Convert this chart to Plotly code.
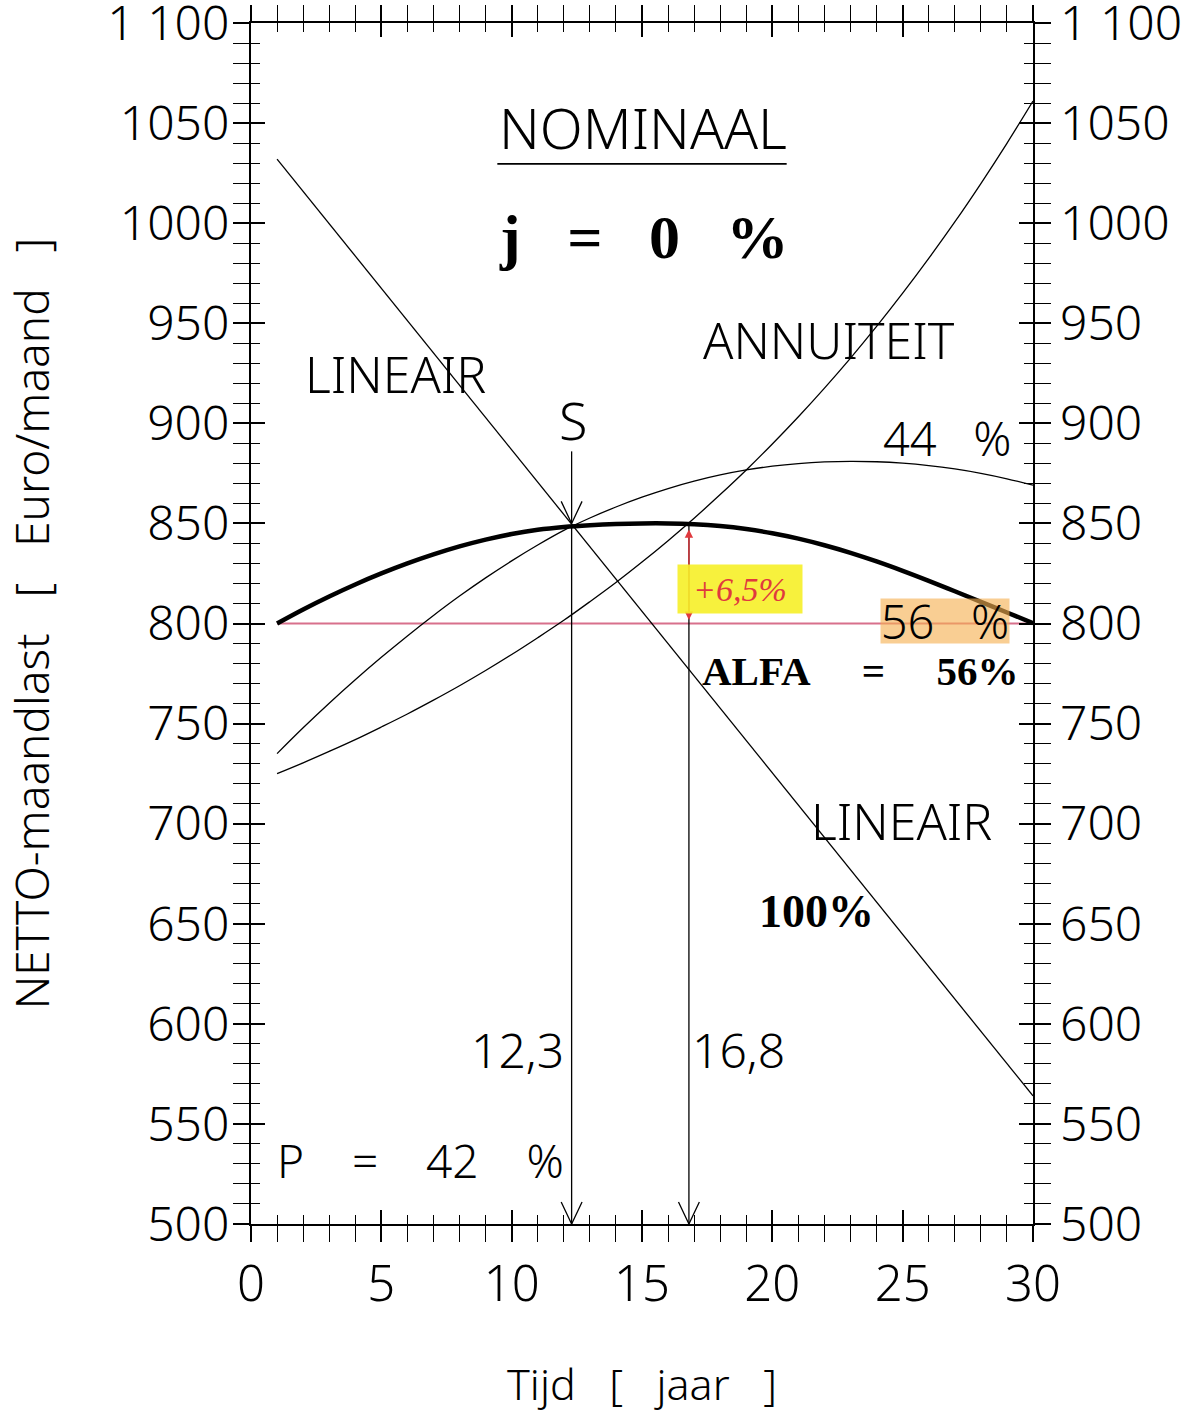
import plotly.graph_objects as go

# ---------------- data ----------------
years = list(range(1, 31))
annuiteit = [725.0, 730.4, 736.1, 742.0, 748.3, 754.8, 761.7, 768.9, 776.5, 784.5,
             792.9, 801.6, 810.9, 820.5, 830.7, 841.4, 852.6, 864.4, 876.7, 889.7,
             903.3, 917.6, 932.6, 948.4, 965.0, 982.4, 1000.6, 1019.8, 1039.9, 1061.0]
alfa44 = [735.0, 747.9, 760.2, 771.9, 783.1, 793.8, 804.0, 813.7, 822.8, 831.3,
          839.2, 846.5, 852.7, 858.2, 863.1, 867.4, 871.1, 874.2, 876.7, 878.6,
          879.9, 880.7, 881.0, 880.8, 880.1, 878.9, 877.2, 875.0, 872.3, 869.1]
alfa56 = [800.0, 807.0, 813.5, 819.5, 825.0, 830.0, 834.5, 838.5, 841.9, 844.7,
          846.8, 848.2, 849.1, 849.7, 850.0, 850.0, 849.6, 848.7, 847.2, 845.1,
          842.4, 839.1, 835.3, 831.0, 826.3, 821.3, 816.1, 810.8, 805.5, 800.2]
lineair_x = [1, 30]
lineair_y = [1032, 564]
ref_x = [1, 30]
ref_y = [800, 800]

arrow_x = [12.3, 16.8]          # vertical arrows down to the time axis
arrow_top = [849, 850]
arrow_bottom = [500, 500]
s_arrow_x = 12.3                # short arrow marking point S
s_arrow_top = 886
s_arrow_bottom = 850
delta_x = 16.8                  # red +6,5% arrow
delta_low, delta_high = 800, 850

x_ticks = [0, 5, 10, 15, 20, 25, 30]
x_tick_text = ["0", "5", "10", "15", "20", "25", "30"]
y_ticks = [500, 550, 600, 650, 700, 750, 800, 850, 900, 950, 1000, 1050, 1100]
y_tick_text = ["500", "550", "600", "650", "700", "750", "800", "850", "900", "950",
               "1000", "1050", "1 100"]

# ---------------- style ----------------
SANS = "Noto Sans"
SERIF = "Liberation Serif"
THIN = 300
NB = "\u00a0"

fig = go.Figure()

def line(x, y, width=1.3, color="black", shape="linear"):
    fig.add_trace(go.Scatter(x=x, y=y, mode="lines",
                             line=dict(color=color, width=width, shape=shape),
                             showlegend=False, hoverinfo="skip"))

def vhead(x, y, direction=-1, dx=0.4, dy=11):
    # open V arrowhead, tip at (x, y); direction -1 = pointing down
    line([x - dx, x, x + dx], [y - direction * dy, y, y - direction * dy])

# reference line at 800
line(ref_x, ref_y, width=2, color="#d8708c")
# curves
line(lineair_x, lineair_y)
line(years, annuiteit, shape="spline")
line(years, alfa44, shape="spline")
line(years, alfa56, width=4.5, shape="spline")

# vertical arrows
for xv, yt, yb in zip(arrow_x, arrow_top, arrow_bottom):
    line([xv, xv], [yt, yb])
    vhead(xv, yb)
line([s_arrow_x, s_arrow_x], [s_arrow_top, s_arrow_bottom])
vhead(s_arrow_x, s_arrow_bottom)

# dummy traces to activate the overlay axes
fig.add_trace(go.Scatter(x=[None], y=[None], xaxis="x2", yaxis="y", showlegend=False, hoverinfo="skip"))
fig.add_trace(go.Scatter(x=[None], y=[None], xaxis="x", yaxis="y2", showlegend=False, hoverinfo="skip"))
fig.add_trace(go.Scatter(x=[None], y=[None], xaxis="x", yaxis="y3", showlegend=False, hoverinfo="skip"))

# red double-headed arrow (+6,5%)
fig.add_annotation(x=delta_x, y=delta_high, ax=delta_x, ay=delta_low, xref="x", yref="y",
                   axref="x", ayref="y", showarrow=True, arrowhead=2, startarrowhead=2,
                   arrowside="end+start", arrowsize=1.2, arrowwidth=1.4, arrowcolor="#e0393e",
                   text="", standoff=6, startstandoff=2)

def txt(text, x, y, size, family=SANS, weight=THIN, color="black", **kw):
    fig.add_annotation(x=x, y=y, xref="x", yref="y", text=text, showarrow=False,
                       font=dict(family=family, size=size, color=color, weight=weight), **kw)

txt("NOMINAAL", 15.05, 1048, 56)
txt("<b>j" + NB * 3 + "=" + NB * 3 + "0" + NB * 3 + "%</b>", 15.05, 993, 62, family=SERIF, weight="bold")
txt("ANNUITEIT", 22.17, 941.5, 50)
txt("LINEAIR", 5.56, 924.7, 50)
txt("S", 12.35, 902, 52)
txt("44" + NB * 3 + "%", 26.72, 892.5, 47)
txt("56" + NB * 3 + "%", 26.62, 801.5, 47, bgcolor="rgba(246,176,80,0.62)", borderpad=0,
    height=44, width=128)
txt("<b>ALFA" + NB * 5 + "=" + NB * 5 + "56%</b>", 23.36, 776.5, 41, family=SERIF, weight="bold")
txt("LINEAIR", 24.96, 701.3, 50)
txt("<b>100%</b>", 21.7, 656, 46, family=SERIF, weight="bold")
txt("12,3", 12.1, 587, 48, xanchor="right")
txt("16,8", 16.85, 587, 48, xanchor="left")
txt("P" + NB * 4 + "=" + NB * 4 + "42" + NB * 4 + "%", 0.92, 532, 46, xanchor="left")
txt("<i>+6,5%</i>", 18.75, 817, 34, family=SERIF, weight="normal", color="#e0393e",
    bgcolor="rgba(246,240,40,0.9)", width=124, height=48, borderpad=0)

# underline below NOMINAAL
fig.add_shape(type="line", x0=9.45, x1=20.55, y0=1029.6, y1=1029.6, xref="x", yref="y",
              line=dict(color="black", width=1.6))

tickfont = dict(family=SANS, size=48, color="black", weight=THIN)
common = dict(showgrid=False, zeroline=False, tickcolor="black", automargin=False)

fig.update_layout(
    width=1187, height=1413,
    paper_bgcolor="white", plot_bgcolor="white",
    margin=dict(l=251, r=154, t=23, b=189),
    showlegend=False,
    xaxis=dict(range=[0, 30], tickvals=x_ticks, ticktext=x_tick_text, ticks="outside",
               ticklen=16, tickwidth=1.6, minor=dict(dtick=1, ticks="outside", ticklen=9,
                                                     tickwidth=1.3, tickcolor="black"),
               mirror="allticks", showline=True, linecolor="black", linewidth=2,
               tickfont=dict(family=SANS, size=49, color="black", weight=THIN),
               ticklabelstandoff=0, ticklabeloverflow="allow",
               title=dict(text="Tijd" + NB * 3 + "[" + NB * 3 + "jaar" + NB * 3 + "]",
                          font=dict(family=SANS, size=43, color="black", weight=THIN),
                          standoff=68),
               **common),
    xaxis2=dict(overlaying="x", matches="x", anchor="y", side="bottom", ticks="inside",
                tickvals=x_ticks, ticklen=14, tickwidth=1.6,
                minor=dict(dtick=1, ticks="inside", ticklen=9, tickwidth=1.3, tickcolor="black"),
                mirror="allticks", showticklabels=False, showline=False, **common),
    yaxis=dict(range=[500, 1100], tickvals=y_ticks, ticktext=y_tick_text, ticks="outside",
               ticklen=16, tickwidth=1.6, minor=dict(dtick=10, ticks="outside", ticklen=9,
                                                     tickwidth=1.3, tickcolor="black"),
               mirror="allticks", showline=True, linecolor="black", linewidth=2,
               tickfont=tickfont, ticklabelstandoff=-6, ticklabeloverflow="allow",
               title=dict(text="NETTO-maandlast" + NB * 3 + "[" + NB * 3 + "Euro/maand" + NB * 3 + "]",
                          font=dict(family=SANS, size=46, color="black", weight=THIN),
                          standoff=57),
               **common),
    yaxis2=dict(overlaying="y", matches="y", anchor="x", side="right", ticks="",
                tickvals=y_ticks, ticktext=y_tick_text, tickfont=tickfont,
                ticklabelstandoff=26, ticklabeloverflow="allow", showline=False, **common),
    yaxis3=dict(overlaying="y", matches="y", anchor="x", side="left", ticks="inside",
                tickvals=y_ticks, ticklen=14, tickwidth=1.6,
                minor=dict(dtick=10, ticks="inside", ticklen=9, tickwidth=1.3, tickcolor="black"),
                mirror="allticks", showticklabels=False, showline=False, **common),
)

fig.write_html("out.html", config={"displayModeBar": False},
               post_script="document.body.style.margin='0px';")
